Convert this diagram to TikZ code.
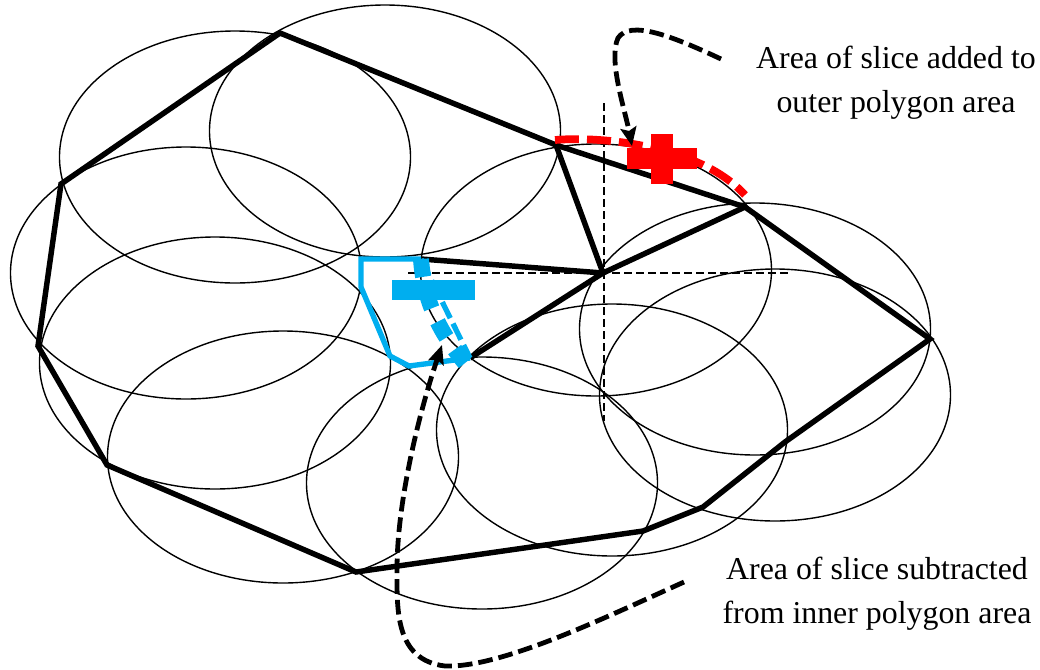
\documentclass[tikz,border=0pt]{standalone}
\usepackage{fontspec}
\setmainfont{Liberation Serif}
\usetikzlibrary{arrows.meta}
\definecolor{cyanb}{HTML}{00AEEF}
\tikzset{
  x=0.75pt,y=-0.75pt,
  circ/.style={draw=black,line width=1.05pt},
  poly/.style={draw=black,line width=4.1pt,line join=miter},
  guide/.style={draw=black,line width=0.9pt,dash pattern=on 6pt off 3pt},
  callout/.style={draw=black,line width=3.6pt,dash pattern=on 11pt off 4.5pt,-{Stealth[length=14pt,width=12pt,inset=2.5pt]}},
  lab/.style={align=center,inner sep=0pt,font=\fontsize{23.9pt}{33pt}\selectfont},
  bluel/.style={draw=cyanb,line width=4pt,line join=miter}
}
\begin{document}
\begin{tikzpicture}
\useasboundingbox (0,0) rectangle (1040,669);
% circles
\foreach \cx/\cy in {235/157,385/131,186/273,215/363,283/457,482/483,612/430,775/395,755/329,596/270}{
  \draw[circ] (\cx,\cy) ellipse [x radius=175.5,y radius=126];
}
% vertices
\coordinate (v1) at (280,33);
\coordinate (v2) at (556,145);
\coordinate (v3) at (745,207);
\coordinate (v4) at (930,339);
\coordinate (v5) at (785,442);
\coordinate (v6) at (703,507);
\coordinate (v7) at (643,531);
\coordinate (v8) at (356,572);
\coordinate (v9) at (107,465);
\coordinate (v10) at (38,346);
\coordinate (v11) at (61,184);
\coordinate (c0) at (603,273);
\coordinate (w1) at (470,358);
\coordinate (w2) at (421,259);
\coordinate (w3) at (465,363);
\coordinate (r1) at (555,140);
\coordinate (r2) at (745,195);
% guides
\coordinate (g1) at (408,273); \coordinate (g2) at (790,273);
\coordinate (g3) at (604,103); \coordinate (g4) at (604,421);
\draw[guide] (g1) -- (g2);
\draw[guide] (g3) -- (g4);
% polygons
\draw[poly] (v1) -- (v2) -- (v3) -- (v4) -- (v5) -- (v6) -- (v7) -- (v8) -- (v9) -- (v10) -- (v11) -- cycle;
\draw[poly] (v2) -- (c0) -- (v3);
\draw[poly] (w2) -- (c0) -- (w1);
% red
\draw[draw=red,line width=5.8pt,dash pattern=on 18pt off 6pt] (r1) .. controls (600,136) and (700,145) .. (r2);
\fill[red] (627,148) rectangle (697,169);
\fill[red] (651,134) rectangle (673,184);
% blue
\draw[bluel] (w2) -- (361,259) -- (361,287) -- (390,356) -- (409,366) -- (w1);
\draw[draw=cyanb,line width=4pt,dash pattern=on 13.5pt off 4.5pt] (w2) -- (w1);
\draw[draw=cyanb,line width=12pt,dash pattern=on 13.5pt off 11pt] (w2) .. controls (424,300) and (438,330) .. (w3);
\fill[cyanb] (392,280) rectangle (475,300);
% callouts
\coordinate (s1) at (721,59);
\coordinate (e1) at (632,146);
\draw[callout] (s1) .. controls (670,35) and (630,20) .. (618,38) .. controls (608,60) and (625,110) .. (e1);
\coordinate (s2) at (684,582);
\coordinate (e2) at (442,345);
\draw[callout] (s2) .. controls (600,620) and (500,668) .. (445,666) .. controls (395,660) and (397,610) .. (397,570) .. controls (397,500) and (420,410) .. (e2);
% labels
\node[lab] (t1) at (896,83) {Area of slice added to\\outer polygon area};
\node[lab] (t2) at (877,594) {Area of slice subtracted\\from inner polygon area};
\end{tikzpicture}
\end{document}
